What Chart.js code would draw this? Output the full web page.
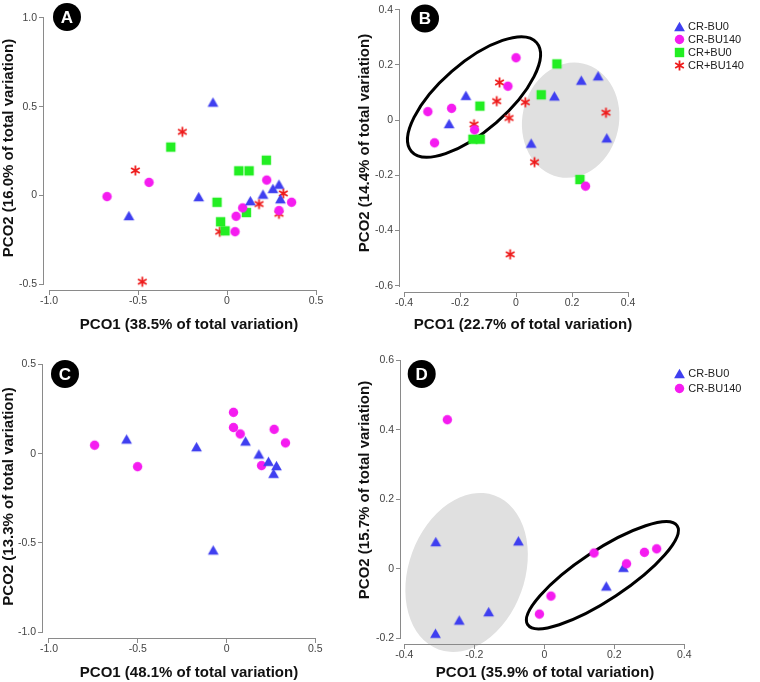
<!DOCTYPE html>
<html>
<head>
<meta charset="utf-8">
<script src="https://cdn.jsdelivr.net/npm/chart.js@4.4.1/dist/chart.umd.min.js"></script>
<style>
  html, body { margin: 0; padding: 0; background: #fff; }
  #fig { position: relative; width: 760px; height: 682px; overflow: hidden; background: #fff; }
  #fig canvas { position: absolute; }
</style>
</head>
<body>
<div id="fig">
  <canvas id="pA" width="380" height="340" style="left:0px;top:0px"></canvas>
  <canvas id="pB" width="404" height="352" style="left:356px;top:-12px"></canvas>
  <canvas id="pC" width="380" height="342" style="left:0px;top:340px"></canvas>
  <canvas id="pD" width="404" height="352" style="left:356px;top:330px"></canvas>
</div>
<script>
const FONT = "'Liberation Sans', Arial, sans-serif";

// groups
const groups = ['CR-BU0', 'CR-BU140', 'CR+BU0', 'CR+BU140'];

// A: all four groups, [PCO1, PCO2]
const aCrBu0 = [[-0.079, 0.526], [-0.159, -0.007], [-0.551, -0.114], [0.131, -0.030], [0.202, 0.007], [0.258, 0.039], [0.292, 0.063], [0.300, -0.019]];
const aCrBu140 = [[-0.674, -0.007], [-0.438, 0.073], [0.223, 0.086], [0.363, -0.039], [0.292, -0.086], [0.088, -0.071], [0.051, -0.118], [0.045, -0.205]];
const aCrpBu0 = [[-0.316, 0.272], [0.221, 0.198], [0.066, 0.138], [0.124, 0.138], [-0.056, -0.039], [-0.036, -0.149], [-0.011, -0.200], [0.109, -0.097]];
const aCrpBu140 = [[-0.251, 0.358], [-0.515, 0.140], [-0.476, -0.487], [0.180, -0.049], [0.316, 0.011], [0.292, -0.104], [-0.041, -0.205]];

// B
const bCrBu0 = [[-0.179, 0.090], [-0.239, -0.012], [0.137, 0.088], [0.233, 0.145], [0.293, 0.161], [0.054, -0.083], [0.324, -0.064]];
const bCrBu140 = [[0.000, 0.226], [-0.029, 0.123], [-0.230, 0.043], [-0.315, 0.031], [-0.291, -0.082], [-0.148, -0.035], [0.248, -0.239]];
const bCrpBu0 = [[0.146, 0.204], [0.090, 0.092], [-0.129, 0.051], [-0.154, -0.069], [-0.128, -0.069], [0.228, -0.215]];
const bCrpBu140 = [[-0.059, 0.137], [-0.069, 0.069], [0.033, 0.065], [-0.025, 0.008], [-0.150, -0.015], [0.321, 0.027], [0.066, -0.152], [-0.021, -0.486]];

// C
const cCrBu0 = [[-0.563, 0.082], [-0.169, 0.039], [-0.075, -0.539], [0.107, 0.071], [0.182, -0.002], [0.236, -0.043], [0.281, -0.067], [0.265, -0.110]];
const cCrBu140 = [[-0.743, 0.047], [-0.501, -0.073], [0.039, 0.231], [0.039, 0.146], [0.077, 0.110], [0.268, 0.136], [0.332, 0.060], [0.197, -0.067]];

// D
const dCrBu0 = [[-0.310, 0.078], [-0.074, 0.080], [-0.159, -0.124], [-0.243, -0.148], [-0.311, -0.186], [0.177, -0.050], [0.226, 0.004]];
const dCrBu140 = [[-0.277, 0.429], [0.142, 0.045], [0.235, 0.014], [0.286, 0.047], [0.321, 0.057], [0.019, -0.079], [-0.014, -0.131]];

// tick labels
const ticksWide = [-1.0, -0.5, 0, 0.5];
const ticksAY = [-0.5, 0, 0.5, 1.0];
const ticksCY = [-1.0, -0.5, 0, 0.5];
const ticksBX = [-0.4, -0.2, 0, 0.2, 0.4];
const ticksBY = [-0.6, -0.4, -0.2, 0, 0.2, 0.4];
const ticksDY = [-0.2, 0, 0.2, 0.4, 0.6];

// axis titles
const titlesX = ['PCO1 (38.5% of total variation)', 'PCO1 (22.7% of total variation)', 'PCO1 (48.1% of total variation)', 'PCO1 (35.9% of total variation)'];
const titlesY = ['PCO2 (16.0% of total variation)', 'PCO2 (14.4% of total variation)', 'PCO2 (13.3% of total variation)', 'PCO2 (15.7% of total variation)'];

function marker(kind, color) {
  const c = document.createElement('canvas');
  c.width = 13; c.height = 13;
  const g = c.getContext('2d');
  g.fillStyle = color; g.strokeStyle = color;
  g.beginPath();
  if (kind === 'triangle') {
    g.moveTo(6.5, 1.85); g.lineTo(11.9, 11.15); g.lineTo(1.1, 11.15); g.closePath(); g.fill();
  } else if (kind === 'circle') {
    g.arc(6.5, 6.5, 4.7, 0, Math.PI * 2); g.fill();
  } else if (kind === 'square') {
    g.fillRect(1.8, 1.8, 9.4, 9.4);
  } else {
    g.lineWidth = 1.8;
    for (let k = 0; k < 3; k++) {
      const t = Math.PI / 2 + k * Math.PI / 3;
      g.moveTo(6.5 + Math.cos(t) * 5, 6.5 - Math.sin(t) * 5);
      g.lineTo(6.5 - Math.cos(t) * 5, 6.5 + Math.sin(t) * 5);
    }
    g.stroke();
  }
  return c;
}

const styles = {
  'CR-BU0': marker('triangle', '#3f3ff0'),
  'CR-BU140': marker('circle', '#f51cf0'),
  'CR+BU0': marker('square', '#22ee22'),
  'CR+BU140': marker('star', '#ee1c1c')
};

function ds(label, pts, order) {
  return {
    label,
    data: pts.map(p => ({ x: p[0], y: p[1] })),
    pointStyle: styles[label],
    pointRadius: 5,
    hoverRadius: 5,
    order: order || 0
  };
}

function axis(title, ticks, min, max, size, titlePad, horizontal) {
  return {
    type: 'linear',
    min, max,
    afterBuildTicks: s => { s.ticks = ticks.map(v => ({ value: v })); },
    afterFit: s => {
      if (horizontal) s.height = size; else s.width = size;
      // no extra room for overhanging end labels
      s.paddingLeft = s.paddingRight = s.paddingTop = s.paddingBottom = 0;
    },
    grid: { drawOnChartArea: false, drawTicks: true, tickLength: 5, color: '#8a8a8a' },
    border: { display: false },
    ticks: {
      autoSkip: false, maxRotation: 0, padding: horizontal ? 0 : 2,
      color: '#444', font: { family: FONT, size: 10.5 },
      callback: v => v === 0 ? '0' : v.toFixed(1)
    },
    title: {
      display: true, text: title, color: '#111',
      font: { family: FONT, size: 15, weight: 'bold' },
      padding: { top: 0, bottom: titlePad }
    }
  };
}

// per panel extras: badge, legend spot, group ellipses (data units)
const extras = {
  pA: { badge: { x: 67, y: 17, text: 'A' } },
  pB: {
    badge: { x: 69, y: 30.5, text: 'B' },
    legend: { x: 323, y: 38, step: 13.1 },
    ellipses: [
      { cx: 0.195, cy: 0.0, a: 0.207, b: 0.175, angle: 78, fill: '#e0e0e0' },
      { cx: -0.150, cy: 0.084, a: 0.296, b: 0.123, angle: 41, stroke: '#000' }
    ]
  },
  pC: { badge: { x: 65, y: 34, text: 'C' } },
  pD: {
    badge: { x: 65.7, y: 44, text: 'D' },
    legend: { x: 323.3, y: 43.7, step: 15 },
    ellipses: [
      { cx: -0.222, cy: -0.011, a: 0.234, b: 0.167, angle: 70, fill: '#e0e0e0' },
      { cx: 0.166, cy: -0.019, a: 0.256, b: 0.071, angle: 33.5, stroke: '#000' }
    ]
  }
};

const decor = {
  id: 'decor',
  beforeDraw(chart) {
    const o = extras[chart.canvas.id];
    const { ctx, scales: { x, y } } = chart;
    (o.ellipses || []).forEach(e => {
      const cx = x.getPixelForValue(e.cx), cy = y.getPixelForValue(e.cy);
      const rx = x.getPixelForValue(e.cx + e.a) - cx;
      const ry = cy - y.getPixelForValue(e.cy + e.b);
      ctx.save();
      ctx.beginPath();
      ctx.ellipse(cx, cy, rx, ry, -e.angle * Math.PI / 180, 0, 2 * Math.PI);
      if (e.fill) { ctx.fillStyle = e.fill; ctx.fill(); }
      if (e.stroke) { ctx.lineWidth = 3; ctx.strokeStyle = e.stroke; ctx.stroke(); }
      ctx.restore();
    });
  },
  beforeDatasetsDraw(chart) {
    // axis lines only across the tick range (detached axes)
    const { ctx, chartArea: ca, scales: { x, y } } = chart;
    const xt = x.ticks, yt = y.ticks;
    const yb = Math.round(ca.bottom) + 0.5, xl = Math.round(ca.left) - 0.5;
    ctx.save();
    ctx.strokeStyle = '#8a8a8a'; ctx.lineWidth = 1;
    ctx.beginPath();
    ctx.moveTo(Math.round(x.getPixelForValue(xt[0].value)), yb);
    ctx.lineTo(Math.round(x.getPixelForValue(xt[xt.length - 1].value)) + 1, yb);
    ctx.moveTo(xl, Math.round(y.getPixelForValue(yt[0].value)) + 1);
    ctx.lineTo(xl, Math.round(y.getPixelForValue(yt[yt.length - 1].value)));
    ctx.stroke();
    ctx.restore();
  },
  afterDraw(chart) {
    const o = extras[chart.canvas.id];
    const { ctx } = chart;
    if (o.badge) {
      const { x: bx, y: by, text } = o.badge;
      ctx.save();
      ctx.beginPath(); ctx.arc(bx, by, 14, 0, 2 * Math.PI);
      ctx.fillStyle = '#000'; ctx.fill();
      ctx.fillStyle = '#fff'; ctx.font = 'bold 17px ' + FONT;
      ctx.textAlign = 'center'; ctx.textBaseline = 'middle';
      ctx.fillText(text, bx, by + 1);
      ctx.restore();
    }
    if (o.legend) {
      const { x: lx, y: ly, step } = o.legend;
      ctx.save();
      ctx.font = '11px ' + FONT; ctx.fillStyle = '#222'; ctx.textBaseline = 'middle';
      chart.data.datasets.forEach((d, i) => {
        const cy = ly + i * step;
        const img = d.pointStyle;
        ctx.drawImage(img, Math.round(lx - img.width / 2), Math.round(cy - img.height / 2));
        ctx.fillText(d.label, lx + 9, cy + 0.5);
      });
      ctx.restore();
    }
  }
};

function panel(id, datasets, xs, ys, pad) {
  return new Chart(document.getElementById(id), {
    type: 'scatter',
    data: { datasets },
    options: {
      responsive: false,
      animation: false,
      events: [],
      layout: { padding: pad },
      plugins: { legend: { display: false }, tooltip: { enabled: false } },
      scales: { x: xs, y: ys }
    },
    plugins: [decor]
  });
}

panel('pA',
  [ds(groups[0], aCrBu0), ds(groups[1], aCrBu140), ds(groups[2], aCrpBu0), ds(groups[3], aCrpBu140)],
  axis(titlesX[0], ticksWide, -1.0281, 0.6011, 50, 6, true),
  axis(titlesY[0], ticksAY, -0.5336, 1.0672, 44, 0, false),
  { top: 4, right: 46, bottom: 0, left: 0 });

panel('pB',
  [ds(groups[0], bCrBu0), ds(groups[1], bCrBu140), ds(groups[2], bCrpBu0), ds(groups[3], bCrpBu140)],
  axis(titlesX[1], ticksBX, -0.4143, 0.464, 48, 6, true),
  axis(titlesY[1], ticksBY, -0.6225, 0.4572, 44, 0, false),
  { top: 2, right: 114, bottom: 0, left: 0 });

panel('pC',
  [ds(groups[0], cCrBu0), ds(groups[1], cCrBu140)],
  axis(titlesX[2], ticksWide, -1.0337, 0.6108, 44, 0, true),
  axis(titlesY[2], ticksCY, -1.0319, 0.552, 43, 0, false),
  { top: 15, right: 45, bottom: 0, left: 0 });

panel('pD',
  [ds(groups[0], dCrBu0, 1), ds(groups[1], dCrBu140, 0)],
  axis(titlesX[3], ticksBX, -0.4094, 0.4134, 38, 0, true),
  axis(titlesY[3], ticksDY, -0.2171, 0.6702, 45, 0, false),
  { top: 2, right: 71, bottom: 0, left: 0 });
</script>
</body>
</html>
